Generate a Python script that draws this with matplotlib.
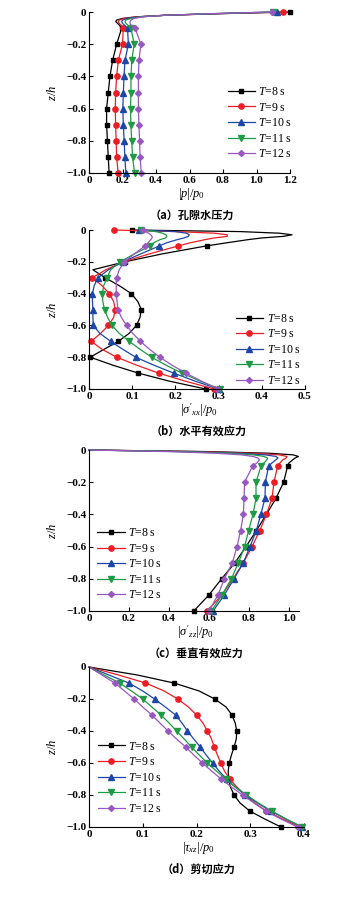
import matplotlib

matplotlib.use("Agg")
import matplotlib.pyplot as plt
import numpy as np
from matplotlib.ticker import FuncFormatter

PERIOD_LABELS = [r"$T$=8 s", r"$T$=9 s", r"$T$=10 s", r"$T$=11 s", r"$T$=12 s"]
COLORS = ["#000000", "#ee1c24", "#1c47a8", "#1f9a45", "#9957c0"]
MARKERS = ["s", "o", "^", "v", "D"]
MSIZES = [3.2, 3.8, 3.8, 3.8, 3.0]

# (a) pore water pressure |p|/p0
PORE_Z = [0, -0.01, -0.02, -0.03, -0.04, -0.05, -0.06, -0.07, -0.08, -0.1,
          -0.2, -0.3, -0.4, -0.5, -0.6, -0.7, -0.8, -0.9, -1.0]
PORE_T8 = [1.20, 0.80, 0.46, 0.28, 0.20, 0.165, 0.16, 0.17, 0.18, 0.195,
           0.165, 0.141, 0.125, 0.115, 0.105, 0.105, 0.11, 0.115, 0.12]
PORE_T9 = [1.16, 0.78, 0.46, 0.29, 0.21, 0.18, 0.175, 0.18, 0.19, 0.205,
           0.20, 0.175, 0.165, 0.159, 0.157, 0.159, 0.162, 0.165, 0.174]
PORE_T10 = [1.12, 0.76, 0.46, 0.30, 0.23, 0.20, 0.195, 0.20, 0.21, 0.23,
            0.235, 0.215, 0.209, 0.205, 0.202, 0.205, 0.21, 0.214, 0.22]
PORE_T11 = [1.10, 0.75, 0.46, 0.31, 0.25, 0.22, 0.215, 0.22, 0.23, 0.25,
            0.27, 0.255, 0.251, 0.25, 0.248, 0.25, 0.255, 0.26, 0.272]
PORE_T12 = [1.09, 0.74, 0.46, 0.32, 0.27, 0.25, 0.245, 0.245, 0.25, 0.275,
            0.31, 0.298, 0.295, 0.295, 0.295, 0.298, 0.302, 0.305, 0.312]

# (b) horizontal effective stress |sigma'_xx|/p0
SXX_Z = [0, -0.01, -0.02, -0.03, -0.04, -0.05, -0.06, -0.08, -0.1, -0.15,
         -0.2, -0.25, -0.3, -0.35, -0.4, -0.45, -0.5, -0.55, -0.6, -0.65,
         -0.7, -0.75, -0.8, -0.85, -0.9, -0.95, -1.0]
SXX_T8 = [0.10, 0.35, 0.44, 0.47, 0.45, 0.40, 0.37, 0.32, 0.272, 0.17,
          0.083, 0.009, 0.037, 0.07, 0.098, 0.113, 0.121, 0.118, 0.11, 0.093,
          0.068, 0.035, 0.003, 0.055, 0.114, 0.185, 0.27]
SXX_T9 = [0.057, 0.20, 0.29, 0.32, 0.32, 0.29, 0.27, 0.235, 0.207, 0.14,
          0.08, 0.039, 0.008, 0.03, 0.047, 0.057, 0.061, 0.057, 0.045, 0.027,
          0.005, 0.03, 0.064, 0.11, 0.161, 0.222, 0.29]
SXX_T10 = [0.115, 0.20, 0.225, 0.232, 0.23, 0.22, 0.205, 0.18, 0.163, 0.12,
           0.078, 0.045, 0.021, 0.012, 0.008, 0.008, 0.009, 0.009, 0.01, 0.025,
           0.05, 0.078, 0.108, 0.15, 0.196, 0.245, 0.30]
SXX_T11 = [0.12, 0.155, 0.17, 0.178, 0.18, 0.177, 0.165, 0.15, 0.142, 0.105,
           0.072, 0.05, 0.042, 0.034, 0.031, 0.032, 0.036, 0.043, 0.053, 0.07,
           0.093, 0.118, 0.145, 0.178, 0.215, 0.257, 0.303]
SXX_T12 = [0.125, 0.13, 0.138, 0.143, 0.146, 0.146, 0.143, 0.137, 0.13, 0.105,
           0.082, 0.07, 0.064, 0.063, 0.063, 0.065, 0.067, 0.075, 0.087, 0.101,
           0.119, 0.14, 0.164, 0.192, 0.224, 0.26, 0.297]

# (c) vertical effective stress |sigma'_zz|/p0
SZZ_Z = [0, -0.01, -0.02, -0.03, -0.04, -0.05, -0.06, -0.08, -0.1,
         -0.2, -0.3, -0.4, -0.5, -0.6, -0.7, -0.8, -0.9, -1.0]
SZZ_T8 = [0, 0.60, 0.90, 1.02, 1.047, 1.03, 1.02, 1.00, 0.993,
          0.973, 0.935, 0.887, 0.837, 0.785, 0.73, 0.663, 0.60, 0.524]
SZZ_T9 = [0, 0.55, 0.82, 0.95, 0.99, 0.985, 0.97, 0.955, 0.943,
          0.925, 0.915, 0.887, 0.854, 0.815, 0.772, 0.72, 0.665, 0.59]
SZZ_T10 = [0, 0.50, 0.75, 0.88, 0.935, 0.945, 0.935, 0.915, 0.898,
           0.882, 0.88, 0.859, 0.837, 0.805, 0.772, 0.725, 0.677, 0.62]
SZZ_T11 = [0, 0.45, 0.70, 0.82, 0.875, 0.893, 0.89, 0.875, 0.86,
           0.835, 0.835, 0.82, 0.798, 0.778, 0.747, 0.712, 0.665, 0.612]
SZZ_T12 = [0, 0.40, 0.63, 0.76, 0.82, 0.845, 0.852, 0.84, 0.818,
           0.778, 0.775, 0.772, 0.758, 0.74, 0.717, 0.677, 0.645, 0.60]

# (d) shear stress |tau_xz|/p0
TXZ_Z = [0, -0.05, -0.1, -0.15, -0.2, -0.25, -0.3, -0.35, -0.4, -0.45, -0.5,
         -0.55, -0.6, -0.65, -0.7, -0.75, -0.8, -0.85, -0.9, -0.95, -1.0]
TXZ_T8 = [0, 0.09, 0.158, 0.205, 0.234, 0.255, 0.266, 0.272, 0.275, 0.274, 0.27,
          0.265, 0.261, 0.259, 0.26, 0.263, 0.27, 0.281, 0.299, 0.327, 0.357]
TXZ_T9 = [0, 0.055, 0.105, 0.14, 0.165, 0.185, 0.20, 0.212, 0.22, 0.228, 0.233,
          0.239, 0.245, 0.252, 0.262, 0.275, 0.291, 0.308, 0.33, 0.36, 0.393]
TXZ_T10 = [0, 0.037, 0.074, 0.10, 0.122, 0.142, 0.161, 0.173, 0.183, 0.195, 0.207,
           0.218, 0.23, 0.242, 0.256, 0.272, 0.291, 0.313, 0.338, 0.366, 0.396]
TXZ_T11 = [0, 0.028, 0.057, 0.079, 0.10, 0.117, 0.134, 0.149, 0.163, 0.177, 0.191,
           0.205, 0.22, 0.237, 0.254, 0.272, 0.293, 0.315, 0.34, 0.367, 0.396]
TXZ_T12 = [0, 0.024, 0.048, 0.066, 0.084, 0.10, 0.117, 0.132, 0.147, 0.163, 0.18,
           0.195, 0.211, 0.228, 0.246, 0.265, 0.286, 0.307, 0.329, 0.357, 0.388]

FIG_W, FIG_H = 352, 908


def px_box(left, top, right, bottom):
    return [left / FIG_W, 1 - bottom / FIG_H, (right - left) / FIG_W, (bottom - top) / FIG_H]


def tick_fmt(v, _pos):
    return "0" if abs(v) < 1e-9 else f"{v:.1f}".replace("-", "\u2212")


def draw_panel(fig, box, z, series, mark_top, xlim, xstep, xlabel, caption, leg_xy):
    left, top, right, bottom = box
    ax = fig.add_axes(px_box(*box))
    z = np.asarray(z)
    idx = [i for i, v in enumerate(z) if abs(v * 10 - round(v * 10)) < 1e-6]
    if not mark_top:
        idx = [i for i in idx if z[i] != 0]
    for vals, lab, col, mk, ms in zip(series, PERIOD_LABELS, COLORS, MARKERS, MSIZES):
        ax.plot(vals, z, color=col, lw=0.9, marker=mk, ms=ms, markevery=idx, label=lab,
                clip_on=False)
    ax.set_xlim(*xlim)
    ax.set_ylim(-1.0, 0.0)
    ax.set_xticks(np.arange(0, xlim[1] + 1e-6, xstep))
    ax.set_yticks(np.arange(-1.0, 0.01, 0.2))
    ax.xaxis.set_major_formatter(FuncFormatter(tick_fmt))
    ax.yaxis.set_major_formatter(FuncFormatter(tick_fmt))
    for s in ("top", "right"):
        ax.spines[s].set_visible(False)
    for s in ("left", "bottom"):
        ax.spines[s].set_linewidth(0.8)
    ax.tick_params(direction="in", length=3, width=0.8, labelsize=8, pad=2)
    for lbl in ax.get_xticklabels() + ax.get_yticklabels():
        lbl.set_fontweight("bold")
    ax.legend(loc="upper left", bbox_to_anchor=leg_xy, frameon=False, fontsize=8.5,
              handlelength=2.3, handletextpad=0.3, labelspacing=0.3,
              borderpad=0, borderaxespad=0)
    cx = (left + right) / 2 + 2
    fig.text(cx / FIG_W, 1 - (bottom + 21) / FIG_H, xlabel, ha="center", va="center",
             fontsize=9)
    fig.text(cx / FIG_W, 1 - (bottom + 42) / FIG_H, caption, ha="center", va="center",
             fontsize=8, fontweight="bold", family=["Noto Sans CJK SC", "DejaVu Sans"])
    fig.text(52 / FIG_W, 1 - (top + bottom) / 2 / FIG_H, "$z/h$", rotation=90,
             ha="center", va="center", fontsize=9)
    return ax


def main():
    plt.rcParams["font.family"] = ["Liberation Serif", "DejaVu Serif"]
    plt.rcParams["mathtext.fontset"] = "custom"
    plt.rcParams["mathtext.rm"] = "Liberation Serif"
    plt.rcParams["mathtext.it"] = "Liberation Serif:italic"
    plt.rcParams["mathtext.bf"] = "Liberation Serif:bold"

    fig = plt.figure(figsize=(FIG_W / 100, FIG_H / 100), dpi=100)

    draw_panel(fig, (89, 12, 290, 173), PORE_Z,
               [PORE_T8, PORE_T9, PORE_T10, PORE_T11, PORE_T12], True,
               (0, 1.2), 0.2, r"$|p|/p_0$", "（a）孔隙水压力", (0.69, 0.54))
    draw_panel(fig, (89, 230, 305, 389), SXX_Z,
               [SXX_T8, SXX_T9, SXX_T10, SXX_T11, SXX_T12], True,
               (0, 0.5), 0.1, r"$|\sigma'_{xx}|/p_0$", "（b）水平有效应力", (0.68, 0.48))
    draw_panel(fig, (89, 450, 299, 611), SZZ_Z,
               [SZZ_T8, SZZ_T9, SZZ_T10, SZZ_T11, SZZ_T12], False,
               (0, 1.05), 0.2, r"$|\sigma'_{zz}|/p_0$", "（c）垂直有效应力", (0.04, 0.52))
    draw_panel(fig, (89, 667, 304, 827), TXZ_Z,
               [TXZ_T8, TXZ_T9, TXZ_T10, TXZ_T11, TXZ_T12], False,
               (0, 0.4), 0.1, r"$|\tau_{xz}|/p_0$", "（d）剪切应力", (0.04, 0.54))

    fig.savefig("out.png", dpi=100)
    plt.close(fig)


if __name__ == "__main__":
    main()
